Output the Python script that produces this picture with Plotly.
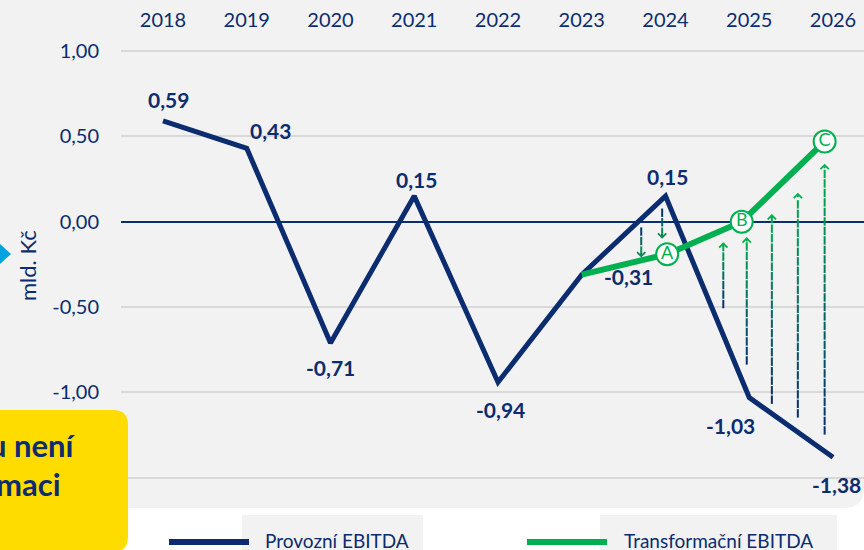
import numpy as np
import plotly.graph_objects as go

# ---------------- data ----------------
years = [2018, 2019, 2020, 2021, 2022, 2023, 2024, 2025, 2026]
year_labels = [str(y) for y in years]
provozni = [0.59, 0.43, -0.71, 0.15, -0.94, -0.31, 0.15, -1.03, -1.38]
provozni_labels = ["0,59", "0,43", "-0,71", "0,15", "-0,94", "-0,31", "0,15", "-1,03", "-1,38"]
label_dx = [5, 24, 0, 2, 2, 47, 2, -19, 3]
label_dy = [-21, -18, 25, -17, 27, 2, -20, 28, 27]

transf_x = [2023, 2024.02, 2024.91, 2025.90]
transf_y = [-0.31, -0.19, 0.00, 0.47]
milestone_x = [2024.02, 2024.91, 2025.90]
milestone_y = [-0.19, 0.00, 0.47]
milestone_text = ["A", "B", "C"]

arrow_x = [2023.71, 2023.96, 2024.69, 2024.97, 2025.27, 2025.58, 2025.90]
arrow_from = [-0.04, 0.07, -0.50, -0.83, -1.06, -1.14, -1.24]
arrow_to = [-0.21, -0.10, -0.12, -0.09, 0.045, 0.17, 0.34]

y_ticks = [1.0, 0.5, 0.0, -0.5, -1.0, -1.5]
y_ticktext = ["1,00", "0,50", "0,00", "-0,50", "-1,00", ""]
series_names = ["Provozní EBITDA", "Transformační EBITDA"]
y_title = "mld. Kč"
note_lines = ["u není", "maci"]

# ---------------- style ----------------
NAVY = "#0B2C6F"
GREEN = "#00B050"
GRAY = "#F2F2F2"
YELLOW = "#FFDC00"
CYAN = "#00A3E0"
FONT = "Lato"

W, H = 864, 550
L, R, T, B = 121, 0, 40, 50
PW, PH = W - L - R, H - T - B
YR = [-1.630, 1.0644]
XR = [2017.4985, 2026.370]
PPU = PH / (YR[1] - YR[0])  # pixels per y unit


def xp(px):
    return (px - L) / PW


def yp(py):
    return (H - B - py) / PH


fig = go.Figure()

# navy line
fig.add_trace(go.Scatter(x=years, y=provozni, mode="lines", name=series_names[0],
                         line=dict(color=NAVY, width=5), showlegend=False, hoverinfo="skip"))

# dashed gradient arrows
c0 = np.array([11, 44, 111])
c1 = np.array([0, 176, 80])
dx_all, dy_all, col_all = [], [], []
for ax_, s, e in zip(arrow_x, arrow_from, arrow_to):
    length_px = abs(e - s) * PPU
    d = np.sign(e - s)
    period = 9.5
    pos = 3.0
    while pos < length_px - 3:
        t = pos / length_px
        dx_all.append(ax_)
        dy_all.append(s + d * pos / PPU)
        c = (c0 * (1 - t) + c1 * t).astype(int)
        col_all.append(f"rgb({c[0]},{c[1]},{c[2]})")
        pos += period
fig.add_trace(go.Scatter(x=dx_all, y=dy_all, mode="markers", showlegend=False, hoverinfo="skip",
                         marker=dict(symbol="line-ns-open", size=6, color=col_all,
                                     line=dict(width=2, color=col_all))))

# green line
fig.add_trace(go.Scatter(x=transf_x, y=transf_y, mode="lines", name=series_names[1],
                         line=dict(color=GREEN, width=6), showlegend=False, hoverinfo="skip"))
# milestones
fig.add_trace(go.Scatter(x=milestone_x, y=milestone_y, mode="markers+text", text=milestone_text,
                         textposition="middle center", showlegend=False, hoverinfo="skip",
                         textfont=dict(family=FONT, size=18, color=GREEN),
                         marker=dict(size=22, color="white", line=dict(color=GREEN, width=2))))

annotations = []
# data labels
for x, y, txt, dx, dy in zip(years, provozni, provozni_labels, label_dx, label_dy):
    annotations.append(dict(x=x, y=y, text=f"<b>{txt}</b>", showarrow=False, xshift=dx, yshift=-dy,
                            xanchor="center", yanchor="middle",
                            font=dict(family=FONT, size=21, color=NAVY)))
# arrowheads
for ax_, s, e in zip(arrow_x, arrow_from, arrow_to):
    up = e > s
    annotations.append(dict(x=ax_, y=e, text="", showarrow=True, ax=0, ay=6 if up else -6,
                            arrowhead=4, arrowsize=0.8, arrowwidth=2,
                            arrowcolor="rgb(0,176,80)" if up else "rgb(20,130,90)",
                            font=dict(size=1)))
# y title
annotations.append(dict(x=xp(27), y=yp(265), xref="paper", yref="paper", text=y_title, textangle=-90,
                        xanchor="center", yanchor="middle",
                        showarrow=False, font=dict(family=FONT, size=22, color=NAVY)))
# note text in yellow box
annotations.append(dict(x=xp(78), y=yp(445), xref="paper", yref="paper", xanchor="right", yanchor="middle",
                        text=f"<b>{note_lines[0]}</b>", showarrow=False,
                        font=dict(family=FONT, size=31, color=NAVY)))
annotations.append(dict(x=xp(63), y=yp(484), xref="paper", yref="paper", xanchor="right", yanchor="middle",
                        text=f"<b>{note_lines[1]}</b>", showarrow=False,
                        font=dict(family=FONT, size=31, color=NAVY)))
# legend texts
annotations.append(dict(x=xp(263), y=yp(540), xref="paper", yref="paper", xanchor="left", yanchor="middle",
                        text=series_names[0], showarrow=False, font=dict(family=FONT, size=19, color=NAVY)))
annotations.append(dict(x=xp(622), y=yp(540), xref="paper", yref="paper", xanchor="left", yanchor="middle",
                        text=series_names[1], showarrow=False, font=dict(family=FONT, size=19, color=NAVY)))

# shapes
rx, ry = 20 / PW, 20 / PH
gx0, gx1, gy0, gy1 = xp(0), xp(W), yp(0), yp(508)
gray_path = (f"M{gx0},{gy0} L{gx1},{gy0} L{gx1},{gy1 + ry} Q{gx1},{gy1} {gx1 - rx},{gy1} "
             f"L{gx0},{gy1} Z")
r2x, r2y = 15 / PW, 15 / PH
bx0, bx1, by0, by1 = xp(-5), xp(128), yp(410), yp(552)
yellow_path = (f"M{bx0},{by0} L{bx1 - r2x},{by0} Q{bx1},{by0} {bx1},{by0 - r2y} "
               f"L{bx1},{by1 + r2y} Q{bx1},{by1} {bx1 - r2x},{by1} L{bx0},{by1} Z")
tri_path = f"M{xp(-1)},{yp(243)} L{xp(11)},{yp(254)} L{xp(-1)},{yp(265)} Z"
shapes = [
    dict(type="path", path=gray_path, xref="paper", yref="paper", fillcolor=GRAY, line=dict(width=0), layer="below"),
    dict(type="rect", x0=xp(242), x1=xp(423), y0=yp(515), y1=yp(556), xref="paper", yref="paper",
         fillcolor=GRAY, line=dict(width=0), layer="below"),
    dict(type="rect", x0=xp(600), x1=xp(837), y0=yp(515), y1=yp(556), xref="paper", yref="paper",
         fillcolor=GRAY, line=dict(width=0), layer="below"),
    dict(type="line", x0=xp(169), x1=xp(249), y0=yp(542), y1=yp(542), xref="paper", yref="paper",
         line=dict(color=NAVY, width=6)),
    dict(type="line", x0=xp(527), x1=xp(607), y0=yp(542), y1=yp(542), xref="paper", yref="paper",
         line=dict(color=GREEN, width=6)),
    dict(type="path", path=yellow_path, xref="paper", yref="paper", fillcolor=YELLOW, line=dict(width=0), layer="above"),
    dict(type="path", path=tri_path, xref="paper", yref="paper", fillcolor=CYAN, line=dict(width=0), layer="above"),
]

fig.update_layout(
    width=W, height=H, margin=dict(l=L, r=R, t=T, b=B, pad=0),
    paper_bgcolor="white", plot_bgcolor="rgba(0,0,0,0)",
    font=dict(family=FONT, color=NAVY),
    showlegend=False, annotations=annotations, shapes=shapes,
    xaxis=dict(range=XR, side="top", tickvals=years, ticktext=year_labels, showgrid=False,
               zeroline=False, showline=False, ticks="", ticklabelstandoff=8,
               tickfont=dict(family=FONT, size=20, color=NAVY), fixedrange=True),
    yaxis=dict(range=YR, tickvals=y_ticks, ticktext=y_ticktext, showgrid=True, gridcolor="#D9D9D9",
               gridwidth=1.5, zeroline=True, zerolinecolor=NAVY, zerolinewidth=1.5, showline=False,
               ticks="", ticklabelstandoff=21, tickfont=dict(family=FONT, size=20, color=NAVY), fixedrange=True),
)

fig.write_html("out.html", config={"displayModeBar": False},
               post_script="document.body.style.margin='0';document.body.style.overflow='hidden';")
